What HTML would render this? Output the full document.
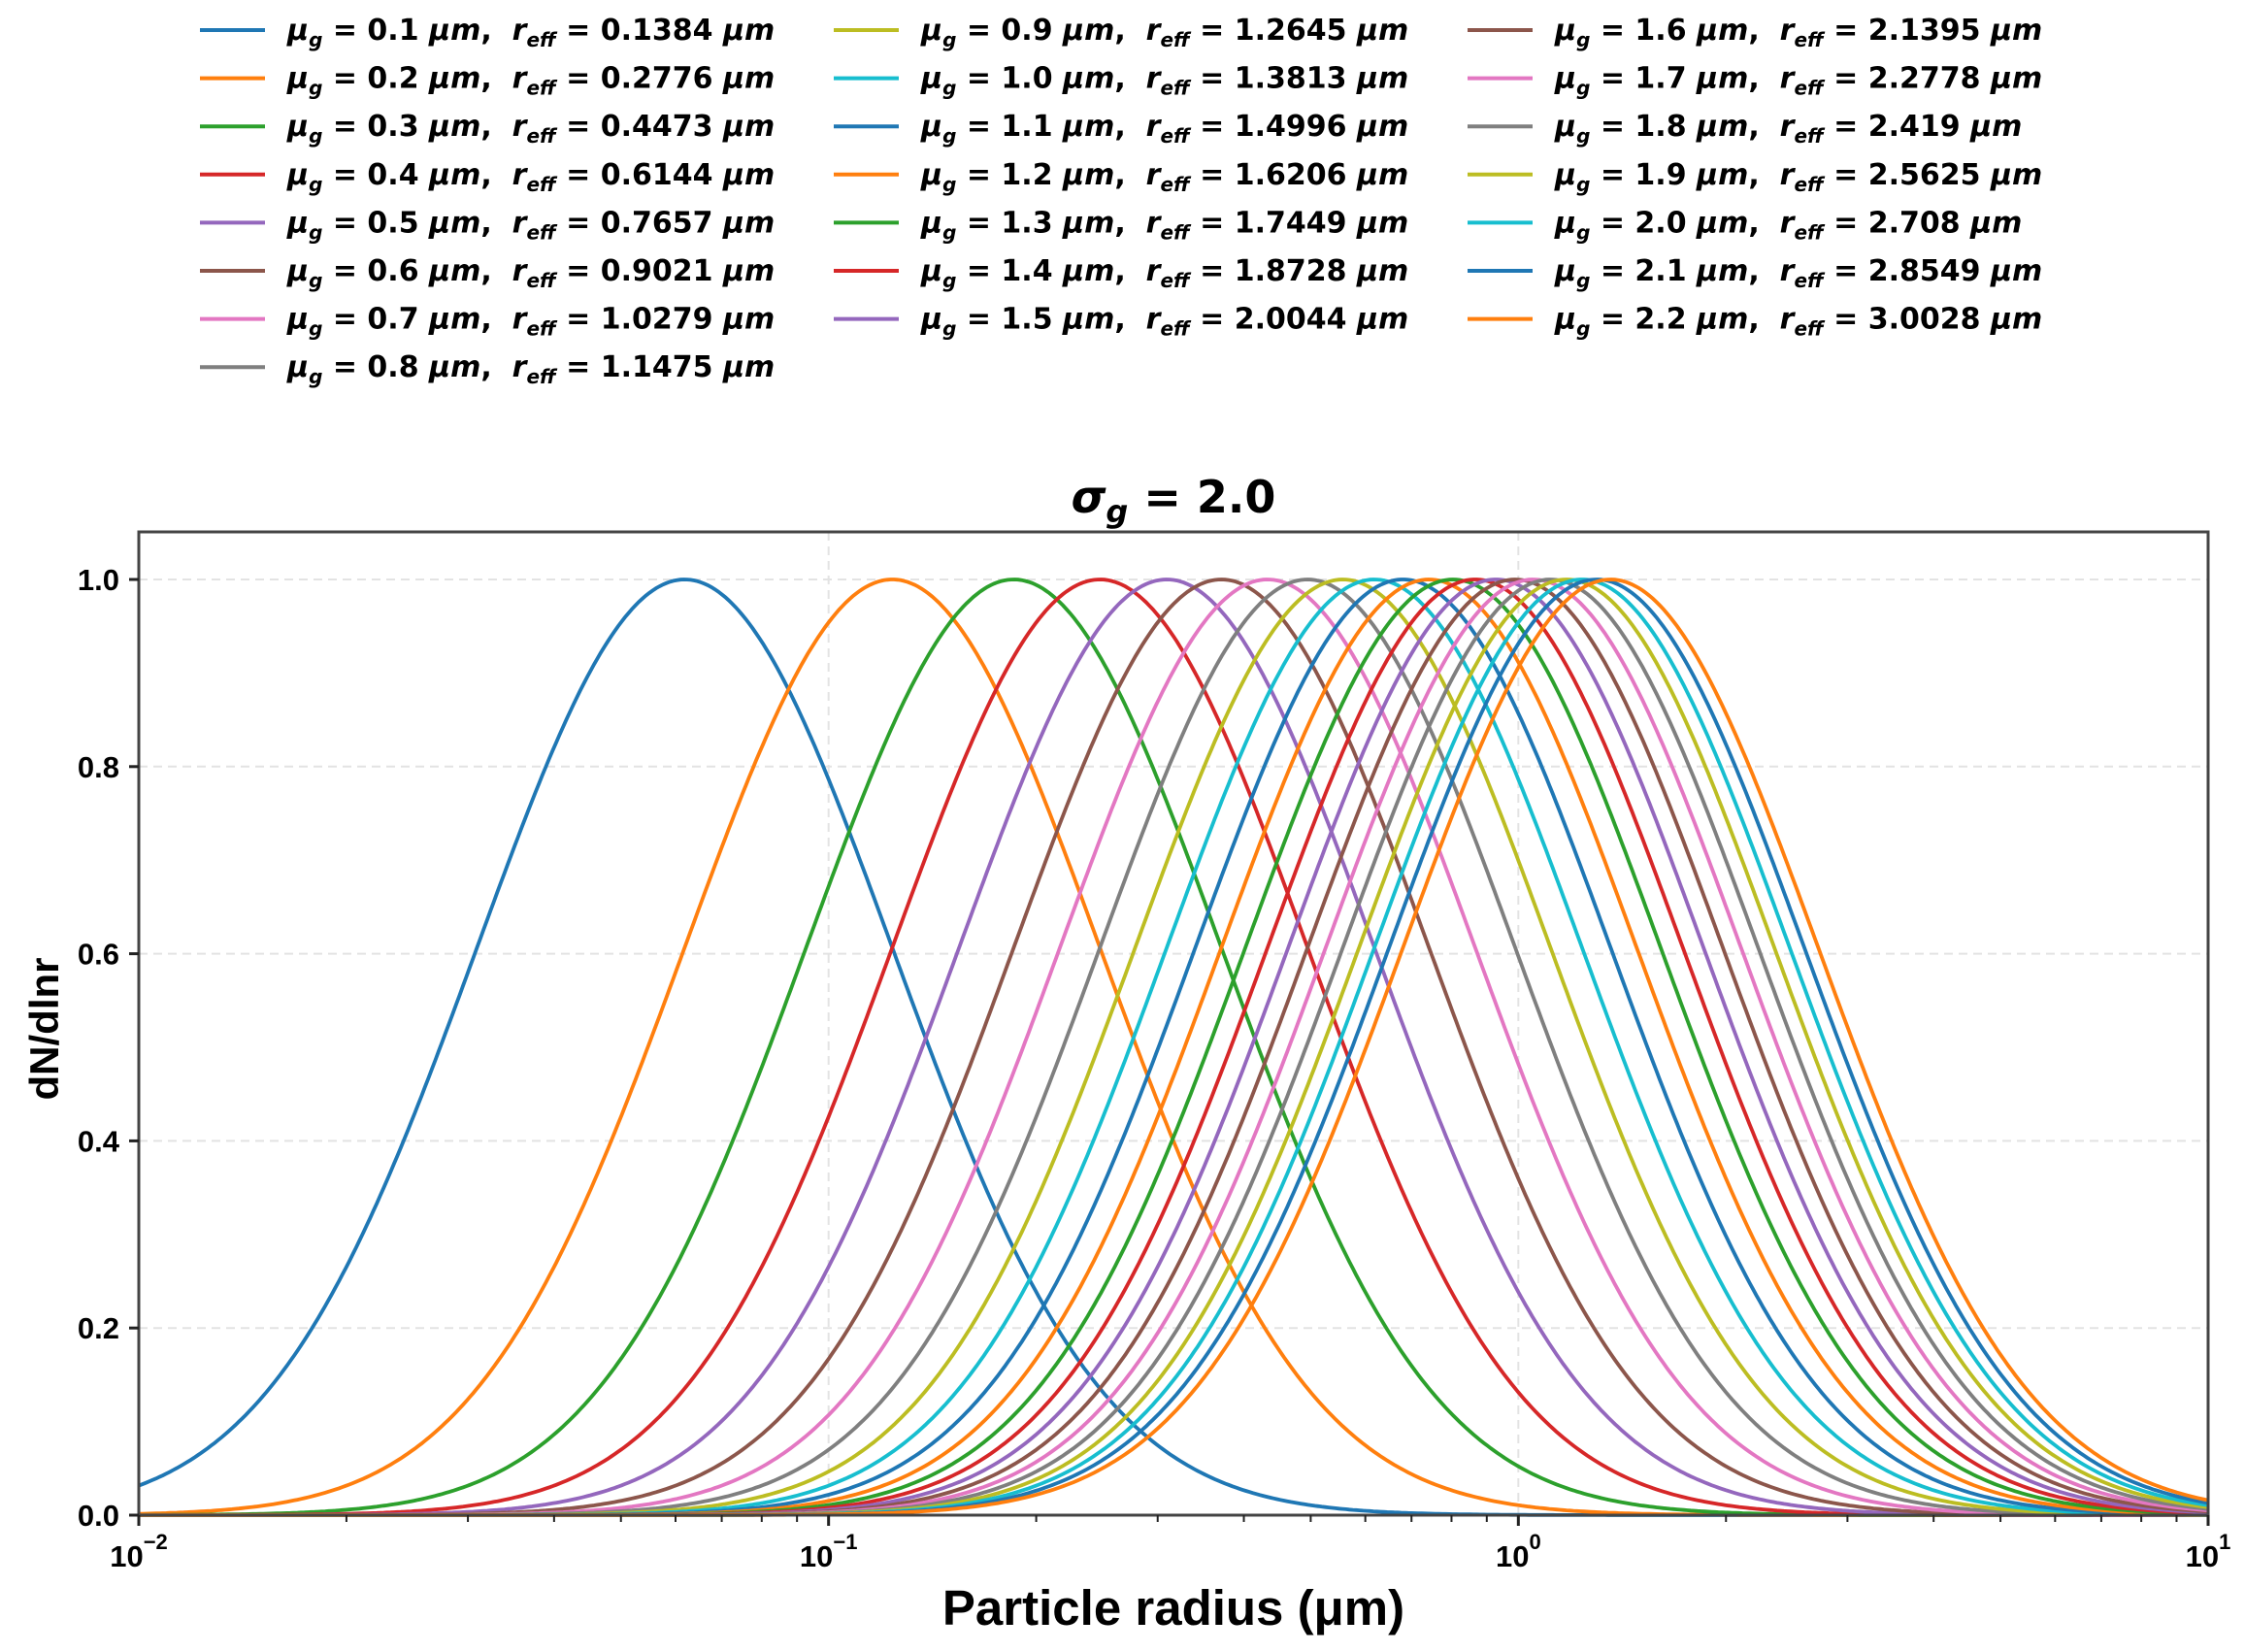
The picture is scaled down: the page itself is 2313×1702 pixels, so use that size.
<!DOCTYPE html>
<html><head><meta charset="utf-8"><style>
html,body{margin:0;padding:0;background:#fff;}
svg{display:block;}
text{font-family:"DejaVu Sans","Liberation Sans",sans-serif;}
</style></head><body>
<svg id="chart" xmlns="http://www.w3.org/2000/svg" width="2313" height="1702" viewBox="0 0 2313 1702">
<rect width="2313" height="1702" fill="#fff"/>
<g id="grid"></g>
<g id="curves"></g>
<g id="axes"></g>
<g id="legend"></g>
<text x="1209" y="528" text-anchor="middle" font-size="46" font-weight="bold"><tspan font-style="italic">σ</tspan><tspan font-style="italic" font-size="32" dy="10">g</tspan><tspan dy="-10"> = 2.0</tspan></text>
<text x="1209" y="1674" text-anchor="middle" font-size="51" font-weight="bold" style="font-family:'Liberation Sans',sans-serif">Particle radius (μm)</text>
<text transform="translate(60,1060) rotate(-90)" text-anchor="middle" font-size="42" font-weight="bold" style="font-family:'Liberation Sans',sans-serif">dN/dlnr</text>
</svg>
<script>
const sigmaG = 2.0;
const muValues = [0.1,0.2,0.3,0.4,0.5,0.6,0.7,0.8,0.9,1.0,1.1,1.2,1.3,1.4,1.5,1.6,1.7,1.8,1.9,2.0,2.1,2.2];
const reffValues = ["0.1384","0.2776","0.4473","0.6144","0.7657","0.9021","1.0279","1.1475","1.2645","1.3813","1.4996","1.6206","1.7449","1.8728","2.0044","2.1395","2.2778","2.419","2.5625","2.708","2.8549","3.0028"];
const yTicks = [0.0,0.2,0.4,0.6,0.8,1.0];
const yTickLabels = ["0.0","0.2","0.4","0.6","0.8","1.0"];
const xDecades = [-2,-1,0,1];
const colors = ["#1f77b4","#ff7f0e","#2ca02c","#d62728","#9467bd","#8c564b","#e377c2","#7f7f7f","#bcbd22","#17becf"];

const NS="http://www.w3.org/2000/svg";
const L=143,R=2275,T=548,B=1561;
const yMax=(B-T)/(B-597);
function xs(r){return L+(Math.log10(r)+2)/3*(R-L);}
function ys(v){return B-v/yMax*(B-T);}
function mk(tag,attrs,parent){const e=document.createElementNS(NS,tag);for(const k in attrs)e.setAttribute(k,attrs[k]);parent.appendChild(e);return e;}
const grid=document.getElementById('grid'),axes=document.getElementById('axes'),curves=document.getElementById('curves'),legend=document.getElementById('legend');

yTicks.forEach(v=>{if(v===0)return;const g=mk('line',{x1:L,x2:R,y1:ys(v),y2:ys(v),stroke:'#e3e3e3','stroke-width':2,'stroke-dasharray':'9,6'},grid);

});
xDecades.forEach(d=>{if(d===-2||d===1)return;const g=mk('line',{x1:xs(Math.pow(10,d)),x2:xs(Math.pow(10,d)),y1:T,y2:B,stroke:'#e3e3e3','stroke-width':2,'stroke-dasharray':'9,6'},grid);

});

const lnS=Math.log(sigmaG);
muValues.forEach((mu,i)=>{
  const rm=mu*Math.exp(-lnS*lnS);
  const f=r=>Math.exp(-Math.pow(Math.log(r/mu),2)/(2*lnS*lnS))/r;
  const fm=f(rm);
  let d='';
  for(let k=0;k<=600;k++){const r=Math.pow(10,-2+3*k/600);const v=f(r)/fm;d+=(k?'L':'M')+xs(r).toFixed(1)+' '+ys(v).toFixed(1);}
  const p=mk('path',{d:d,fill:'none',stroke:colors[i%10],'stroke-width':3.8},curves);
  
  
});

const fr=mk('rect',{x:L,y:T,width:R-L,height:B-T,fill:'none',stroke:'#444','stroke-width':3},axes);


yTicks.forEach((v,i)=>{
  const t=mk('line',{x1:L-10,x2:L,y1:ys(v),y2:ys(v),stroke:'#222','stroke-width':3},axes);
  
  
  const tx=mk('text',{x:L-20,y:ys(v)+11,'text-anchor':'end','font-size':31,'font-weight':'bold',style:"font-family:'Liberation Sans',sans-serif"},axes);
  tx.textContent=yTickLabels[i];
  
  
});
xDecades.forEach(d=>{
  const x=xs(Math.pow(10,d));
  const t=mk('line',{x1:x,x2:x,y1:B,y2:B+11,stroke:'#222','stroke-width':3},axes);
  
  
  const tx=mk('text',{x:x,y:B+53,'text-anchor':'middle','font-size':31,'font-weight':'bold',style:"font-family:'Liberation Sans',sans-serif"},axes);
  
  
  const a=document.createElementNS(NS,'tspan');a.textContent='10';tx.appendChild(a);
  const b=document.createElementNS(NS,'tspan');b.setAttribute('dy','-18');b.setAttribute('font-size','22');b.textContent=(d<0?'\u2212':'')+Math.abs(d);tx.appendChild(b);
  if(d<1){for(let m=2;m<=9;m++){const xm=xs(m*Math.pow(10,d));const mt=mk('line',{x1:xm,x2:xm,y1:B,y2:B+7,stroke:'#222','stroke-width':2},axes);
    
    }}
});

const colX=[206,859,1512], textX=[296,949,1602], rowY0=31, rowH=49.6;
muValues.forEach((mu,i)=>{
  const col=i<8?0:(i<15?1:2), row=i<8?i:(i<15?i-8:i-15);
  const y=rowY0+row*rowH;
  const g=mk('g',{},legend);
  
  
  mk('line',{x1:colX[col],x2:colX[col]+67,y1:y,y2:y,stroke:colors[i%10],'stroke-width':4},g);
  const t=mk('text',{x:textX[col],y:y+10,'font-size':30,'font-weight':'bold'},g);
  t.innerHTML='<tspan font-style="italic">μ</tspan><tspan font-style="italic" font-size="20" dy="7">g</tspan><tspan dy="-7"> = '+mu.toFixed(1)+' </tspan><tspan font-style="italic">μm</tspan><tspan>,\u00a0\u00a0</tspan><tspan font-style="italic">r</tspan><tspan font-style="italic" font-size="20" dy="7">eff</tspan><tspan dy="-7"> = '+reffValues[i]+' </tspan><tspan font-style="italic">μm</tspan>';
});
</script>
</body></html>
